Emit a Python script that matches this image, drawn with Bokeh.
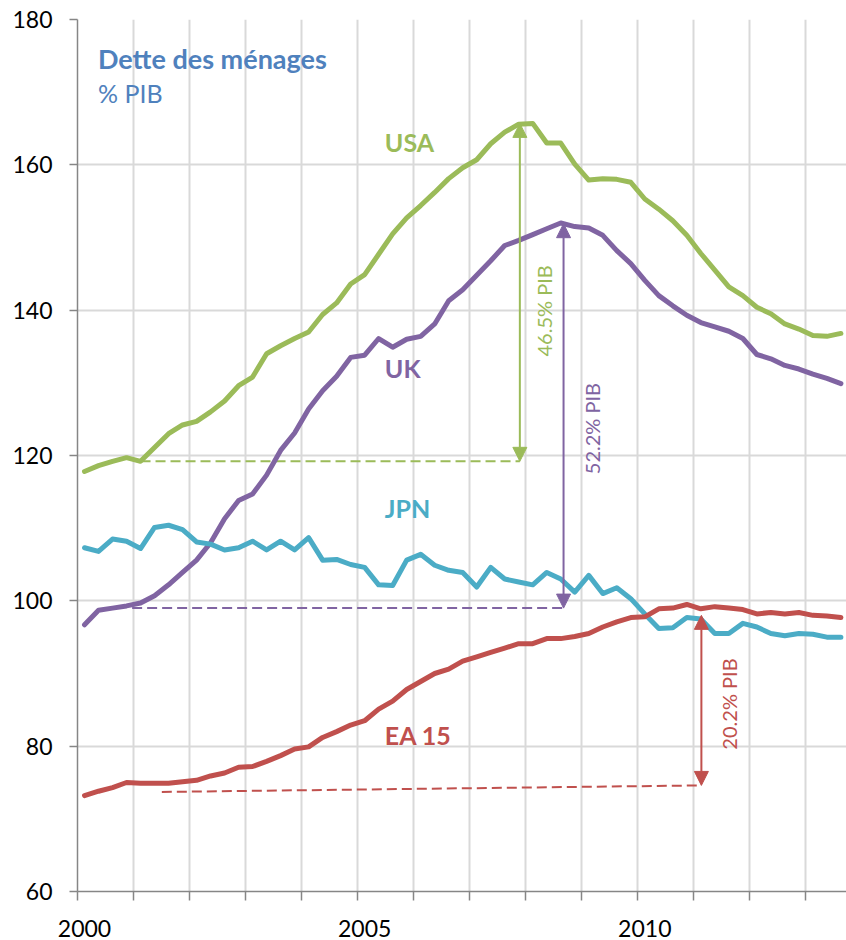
import math
from bokeh.plotting import figure
from bokeh.models import Range1d, FixedTicker, Arrow, NormalHead
from bokeh.core.properties import value
from bokeh.embed import file_html
from bokeh.resources import INLINE

# ---------------- data (quarterly, 2000Q1 .. 2013Q3), % of GDP ----------------
periods = [(y, q) for y in range(2000, 2014) for q in range(1, 5)][:55]
x = [y + (q - 1) / 4 for (y, q) in periods]

usa = [117.8, 118.6, 119.2, 119.7, 119.2, 121.1, 123.0, 124.2, 124.7, 126.0,
       127.5, 129.6, 130.8, 134.0, 135.1, 136.1, 137.0, 139.4, 141.0, 143.6,
       144.9, 147.7, 150.5, 152.7, 154.4, 156.2, 158.1, 159.6, 160.7, 162.9,
       164.5, 165.6, 165.7, 163.0, 163.0, 160.1, 157.9, 158.1, 158.0, 157.6,
       155.3, 153.9, 152.3, 150.3, 147.8, 145.5, 143.2, 142.0, 140.4, 139.5,
       138.1, 137.4, 136.5, 136.4, 136.8]
uk = [96.7, 98.7, 99.0, 99.3, 99.7, 100.7, 102.2, 103.9, 105.6, 108.0,
      111.3, 113.8, 114.7, 117.3, 120.7, 123.1, 126.4, 128.9, 130.9, 133.5,
      133.8, 136.1, 134.9, 136.0, 136.4, 138.1, 141.3, 142.8, 144.8, 146.8,
      148.9, 149.6, 150.4, 151.2, 152.0, 151.5, 151.3, 150.3, 148.2, 146.4,
      144.1, 142.0, 140.6, 139.3, 138.3, 137.7, 137.1, 136.1, 133.9, 133.3,
      132.4, 131.9, 131.2, 130.6, 129.9]
jpn = [107.3, 106.8, 108.5, 108.2, 107.2, 110.1, 110.4, 109.8, 108.1, 107.8,
       107.0, 107.3, 108.2, 107.0, 108.2, 107.0, 108.7, 105.6, 105.7, 105.0,
       104.6, 102.2, 102.1, 105.6, 106.4, 104.9, 104.2, 103.9, 101.9, 104.6,
       103.0, 102.6, 102.2, 103.9, 103.0, 101.2, 103.5, 101.0, 101.8, 100.3,
       98.2, 96.2, 96.3, 97.7, 97.5, 95.5, 95.5, 96.9, 96.4, 95.5,
       95.2, 95.5, 95.4, 95.0, 95.0]
ea15 = [73.2, 73.8, 74.3, 75.0, 74.9, 74.9, 74.9, 75.1, 75.3, 75.9,
        76.3, 77.1, 77.2, 77.9, 78.7, 79.6, 79.9, 81.2, 82.0, 82.9,
        83.5, 85.1, 86.2, 87.8, 88.9, 90.0, 90.6, 91.7, 92.3, 92.9,
        93.5, 94.1, 94.1, 94.8, 94.8, 95.1, 95.5, 96.4, 97.1, 97.7,
        97.8, 98.9, 99.0, 99.5, 98.9, 99.2, 99.0, 98.8, 98.2, 98.4,
        98.2, 98.4, 98.0, 97.9, 97.7]

series_names = ["USA", "UK", "JPN", "EA 15"]
series_values = [usa, uk, jpn, ea15]
series_colors = ["#9BBB59", "#8064A2", "#4BACC6", "#C0504D"]
name_x = [2005.36, 2005.36, 2005.36, 2005.36]
name_y = [163.2, 132.0, 112.8, 81.5]

# increase annotations (USA, UK, EA 15)
gap_labels = ["46.5% PIB", "52.2% PIB", "20.2% PIB"]
gap_colors = ["#9BBB59", "#8064A2", "#C0504D"]
arrow_x = [2007.77, 2008.55, 2011.01]
arrow_top = [165.7, 151.9, 98.0]
arrow_base = [119.2, 99.0, 74.6]
dash_x0 = [2001.0, 2000.85, 2001.38]
dash_y0 = [119.2, 99.0, 73.7]
gap_label_x = [2008.2, 2009.06, 2011.5]
gap_label_y = [139.9, 123.7, 85.8]

y_ticks = [60, 80, 100, 120, 140, 160, 180]
x_tick_years = [2000, 2005, 2010]
year_bounds = [1999.875 + k for k in range(14)]

FONT = "Lato"

p = figure(width=846, height=940,
           x_range=Range1d(1999.875, 2013.6), y_range=Range1d(60, 180),
           output_backend="svg", toolbar_location=None,
           min_border_left=77, min_border_right=0,
           min_border_top=19, min_border_bottom=49)
p.outline_line_color = None
p.background_fill_color = "white"
p.border_fill_color = "white"

# grids
p.xgrid.ticker = FixedTicker(ticks=year_bounds)
p.ygrid.ticker = FixedTicker(ticks=y_ticks)
for g in (p.xgrid, p.ygrid):
    g.grid_line_color = "#D9D9D9"
    g.grid_line_width = 2

# x axis
p.xaxis.ticker = FixedTicker(ticks=x_tick_years, minor_ticks=year_bounds)
p.xaxis.major_label_overrides = {yv: str(yv) for yv in x_tick_years}
p.xaxis.major_tick_out = 0
p.xaxis.major_tick_in = 0
p.xaxis.minor_tick_out = 9
p.xaxis.minor_tick_in = 0
p.xaxis.minor_tick_line_color = "#868686"
p.xaxis.minor_tick_line_width = 1.5
p.xaxis.major_label_standoff = 19

# y axis
p.yaxis.ticker = FixedTicker(ticks=y_ticks)
p.yaxis.major_tick_out = 8
p.yaxis.major_tick_in = 0
p.yaxis.minor_tick_out = 0
p.yaxis.minor_tick_in = 0
p.yaxis.major_tick_line_color = "#868686"
p.yaxis.major_tick_line_width = 1.5
p.yaxis.major_label_standoff = 17

for ax in (p.xaxis, p.yaxis):
    ax.axis_line_color = "#868686"
    ax.axis_line_width = 1.5
    ax.major_label_text_font = FONT
    ax.major_label_text_font_size = "23px"
    ax.major_label_text_color = "#000000"

# dashed baselines
p.segment(x0=dash_x0, y0=dash_y0, x1=arrow_x, y1=arrow_base,
          line_color=gap_colors, line_width=2, line_dash="10 5")

# series
for vals, col in zip(series_values, series_colors):
    p.line(x, vals, line_color=col, line_width=5,
           line_join="round", line_cap="round")

# arrows
for ax_, top, base, col in zip(arrow_x, arrow_top, arrow_base, gap_colors):
    p.add_layout(Arrow(
        x_start=ax_, y_start=base, x_end=ax_, y_end=top,
        line_color=col, line_width=2,
        start=NormalHead(size=14, fill_color=col, line_color=col),
        end=NormalHead(size=14, fill_color=col, line_color=col)))

# rotated gap labels
p.text(x=gap_label_x, y=gap_label_y, text=gap_labels, angle=math.pi / 2,
       text_color=gap_colors, text_font=value(FONT), text_font_size="20px",
       text_align="center", text_baseline="middle")

# series names
p.text(x=name_x, y=name_y, text=series_names, text_color=series_colors,
       text_font=value(FONT), text_font_style="bold", text_font_size="25px",
       text_align="left", text_baseline="middle")

# title
p.text(x=[2000.24], y=[174.6], text=["Dette des ménages"], text_color="#4F81BD",
       text_font=value(FONT), text_font_style="bold", text_font_size="27px",
       text_align="left", text_baseline="alphabetic")
p.text(x=[2000.24], y=[169.9], text=["% PIB"], text_color="#4F81BD",
       text_font=value(FONT), text_font_size="25px",
       text_align="left", text_baseline="alphabetic")

open("out.html", "w").write(file_html(p, INLINE))
